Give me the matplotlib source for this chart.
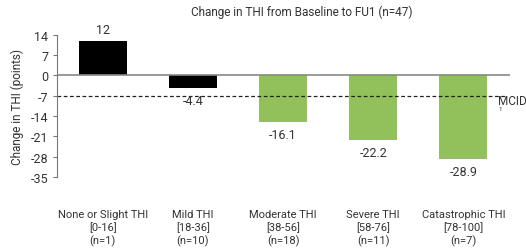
import matplotlib
matplotlib.use("Agg")
import matplotlib.pyplot as plt

plt.rcParams['font.family'] = ['Roboto', 'DejaVu Sans']
plt.rcParams['text.color'] = '#333333'
plt.rcParams['axes.labelcolor'] = '#333333'
plt.rcParams['xtick.color'] = '#333333'
plt.rcParams['ytick.color'] = '#333333'

# Data
categories = ["None or Slight THI\n[0-16]\n(n=1)", "Mild THI\n[18-36]\n(n=10)",
              "Moderate THI\n[38-56]\n(n=18)", "Severe THI\n[58-76]\n(n=11)",
              "Catastrophic THI\n[78-100]\n(n=7)"]
changes = [12, -4.4, -16.1, -22.2, -28.9]
labels = ["12", "-4.4", "-16.1", "-22.2", "-28.9"]
bar_colors = ["#000000", "#000000", "#92c05a", "#92c05a", "#92c05a"]
yticks = [14, 7, 0, -7, -14, -21, -28, -35]
mcid = -7

fig = plt.figure(figsize=(5.26, 2.51), dpi=100)
ax = fig.add_axes([0.108, 0.291, 0.862, 0.566])

x = range(len(categories))
ax.bar(x, changes, width=0.53, color=bar_colors)
ax.axhline(0, color="#888888", linewidth=1.2)
ax.plot([-0.51, 4.48], [mcid, mcid], color="#222222", linestyle=(0, (3, 2)), linewidth=0.9)
ax.text(4.38, mcid - 1.6, "MCID", fontsize=8.5, va="center", ha="left")
ax.text(4.39, mcid - 4.5, "1", fontsize=4.5, va="center", ha="left")

for i, (v, lab) in enumerate(zip(changes, labels)):
    if v >= 0:
        ax.text(i, v + 1.5, lab, ha="center", va="bottom", fontsize=9)
    else:
        ax.text(i, v - 2.0, lab, ha="center", va="top", fontsize=9)

ax.set_xlim(-0.51, 4.52)
ax.set_ylim(-35, 14)
ax.set_yticks(yticks)
ax.set_yticklabels([str(t) for t in yticks], fontsize=9)
ax.set_xticks(list(x))
ax.set_xticklabels(categories, fontsize=8, linespacing=1.25)
ax.tick_params(axis="x", length=0, pad=23)
ax.tick_params(axis="y", length=3, color="#777777", pad=3)

for s in ["top", "right", "bottom"]:
    ax.spines[s].set_visible(False)
ax.spines["left"].set_color("#777777")

ax.set_ylabel("Change in THI (points)", fontsize=8.5, labelpad=5)
fig.text(0.574, 0.95, "Change in THI from Baseline to FU1 (n=47)", ha="center", va="center", fontsize=8.5)

fig.savefig("out.png", dpi=100)
